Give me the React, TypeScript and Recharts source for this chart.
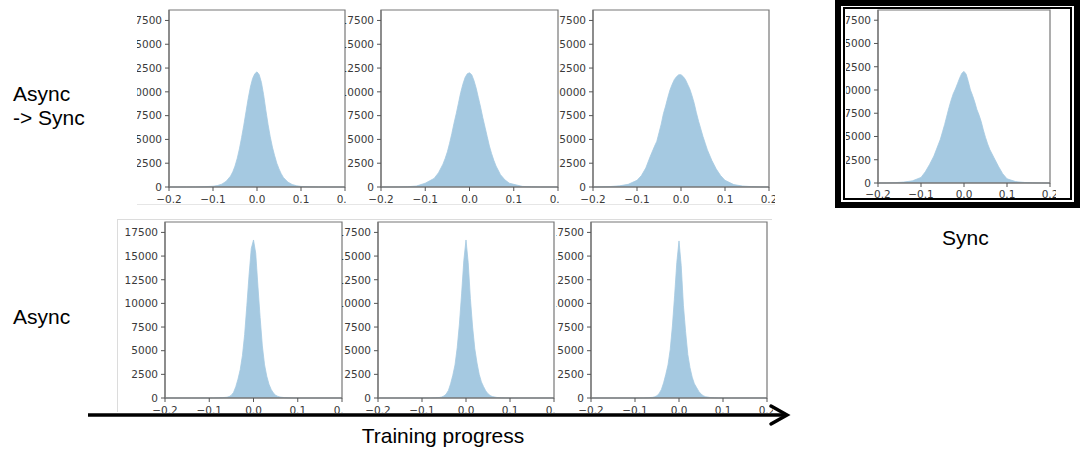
import React from "react";
import { AreaChart, Area, XAxis, YAxis, ReferenceArea } from "recharts";

// Bin centres (weights, x axis)
const X_BINS = [
  -0.2, -0.18, -0.16, -0.14, -0.12, -0.1, -0.09, -0.08, -0.07,
  -0.06, -0.055, -0.05, -0.045, -0.04, -0.035, -0.03, -0.025, -0.02, -0.015, -0.01, -0.005,
  0, 0.005, 0.01, 0.015, 0.02, 0.025, 0.03, 0.035, 0.04, 0.045, 0.05, 0.055, 0.06,
  0.07, 0.08, 0.09, 0.1, 0.12, 0.14, 0.16, 0.18, 0.2,
];

// Async -> Sync row (training progress left to right)
const ASYNC_SYNC_1 = [0, 0, 5, 10, 30, 80, 150, 300, 600, 1150, 1600, 2200, 3000, 4000, 5200, 6500, 7900, 9300, 10500, 11400, 11900, 12100, 11800, 11000, 9700, 8100, 6600, 5300, 4200, 3300, 2500, 1900, 1400, 1000, 520, 260, 130, 60, 20, 6, 0, 0, 0];
const ASYNC_SYNC_2 = [0, 3, 10, 30, 100, 400, 650, 900, 1500, 2400, 3000, 3700, 4600, 5600, 6700, 7700, 8800, 9900, 10800, 11500, 11900, 12000, 11800, 11200, 10400, 9400, 8400, 7300, 6300, 5300, 4300, 3500, 2800, 2200, 1300, 750, 400, 280, 60, 20, 6, 2, 0];
const ASYNC_SYNC_3 = [0, 15, 50, 120, 280, 700, 1200, 2000, 3200, 4300, 4800, 5700, 6600, 7700, 8500, 9400, 10200, 10800, 11300, 11600, 11800, 11800, 11600, 11300, 10800, 10300, 9600, 8800, 7800, 6900, 6100, 5300, 4600, 3900, 2800, 1900, 1200, 700, 250, 100, 40, 10, 0];
// Sync reference
const SYNC = [0, 10, 40, 100, 230, 600, 1200, 2000, 2900, 4100, 4700, 5500, 6300, 7200, 8100, 8900, 9600, 10100, 10700, 11300, 11800, 12000, 11700, 10900, 10000, 9400, 8700, 7900, 7300, 6600, 5700, 4900, 4200, 3600, 2700, 1800, 1000, 450, 150, 60, 20, 5, 0];
// Async row
const ASYNC_1 = [0, 0, 0, 0, 0, 5, 10, 20, 40, 80, 150, 300, 600, 1200, 2000, 3000, 4500, 6700, 9800, 13000, 15800, 16700, 15300, 11800, 8500, 5500, 3500, 2300, 1450, 900, 520, 300, 170, 100, 40, 15, 5, 0, 0, 0, 0, 0, 0];
const ASYNC_2 = [0, 0, 0, 0, 0, 0, 5, 10, 25, 60, 110, 220, 420, 800, 1500, 2400, 3500, 5300, 7800, 11000, 14500, 16700, 14300, 10500, 7500, 5200, 3700, 2500, 1700, 1200, 750, 450, 260, 150, 60, 20, 8, 0, 0, 0, 0, 0, 0];
const ASYNC_3 = [0, 0, 0, 0, 0, 0, 5, 10, 30, 70, 130, 250, 480, 900, 1600, 2500, 3500, 5100, 7600, 10800, 14300, 16600, 14000, 9800, 7000, 4600, 3200, 2200, 1500, 1100, 700, 420, 250, 140, 60, 20, 8, 0, 0, 0, 0, 0, 0];

const X_TICKS = [-0.2, -0.1, 0, 0.1, 0.2];
const Y_TICKS = [0, 2500, 5000, 7500, 10000, 12500, 15000, 17500];
const X_DOMAIN: [number, number] = [-0.2, 0.2];
const Y_DOMAIN: [number, number] = [0, 18600];

const ROW_LABEL_TOP = ["Async", "-> Sync"];
const ROW_LABEL_BOTTOM = "Async";
const SYNC_LABEL = "Sync";
const ARROW_LABEL = "Training progress";

const fmtX = (v: number) => (Math.abs(v) < 1e-9 ? "0.0" : (v < 0 ? "\u2212" : "") + Math.abs(v).toFixed(1));

type Box = { x: number; y: number; w: number; h: number };

const TICK_FONT = "DejaVu Sans";
const TICK_SIZE = 10.5;

const XTick = (props: any) => {
  const { x, y, payload } = props;
  return (
    <text x={x} y={y} dy="0.72em" textAnchor="middle" fontSize={TICK_SIZE} fontFamily={TICK_FONT} fill="#3a3a3a">
      {fmtX(payload.value)}
    </text>
  );
};

const YTick = (props: any) => {
  const { x, y, payload } = props;
  return (
    <text x={x} y={y} dy="0.36em" textAnchor="end" fontSize={TICK_SIZE} fontFamily={TICK_FONT} fill="#3a3a3a">
      {String(payload.value)}
    </text>
  );
};

function Hist({ values, plot, clip, xMargin = 4 }: { values: number[]; plot: Box; clip: Box; xMargin?: number }) {
  const YW = 42, MT = 6, MR = 6, XH = 26;
  const w = YW + plot.w + MR;
  const h = MT + plot.h + XH;
  const data = X_BINS.map((x, i) => ({ x, y: values[i] }));
  return (
    <div style={{ position: "absolute", left: clip.x, top: clip.y, width: clip.w, height: clip.h, overflow: "hidden" }}>
      <div style={{ position: "absolute", left: plot.x - YW - clip.x, top: plot.y - MT - clip.y }}>
        <AreaChart width={w} height={h} data={data} margin={{ top: MT, right: MR, bottom: 0, left: 0 }}>
          <XAxis
            dataKey="x"
            type="number"
            domain={X_DOMAIN}
            ticks={X_TICKS}
            interval={0}
            height={XH}
            tickSize={4}
            tickMargin={xMargin}
            tick={<XTick />}
            axisLine={{ stroke: "#777", strokeWidth: 1.2 }}
            tickLine={{ stroke: "#555" }}
          />
          <YAxis
            type="number"
            domain={Y_DOMAIN}
            ticks={Y_TICKS}
            interval={0}
            width={YW}
            tickSize={4}
            tickMargin={3}
            tick={<YTick />}
            axisLine={{ stroke: "#777", strokeWidth: 1.2 }}
            tickLine={{ stroke: "#555" }}
          />
          <Area
            dataKey="y"
            type="linear"
            fill="#a5c9e1"
            fillOpacity={1}
            stroke="#a5c9e1"
            strokeWidth={0.8}
            dot={false}
            activeDot={false}
            isAnimationActive={false}
          />
          <ReferenceArea x1={-0.2} x2={0.2} y1={0} y2={18600} fill="none" stroke="#777" strokeWidth={1.2} ifOverflow="visible" />
        </AreaChart>
      </div>
    </div>
  );
}

export default function App() {
  const font = "'Liberation Sans', Arial, Helvetica, sans-serif";
  return (
    <div style={{ position: "absolute", left: 0, top: 0, width: 1080, height: 460, background: "#fff", overflow: "hidden" }}>
      {/* Async -> Sync row */}
      <Hist values={ASYNC_SYNC_1} plot={{ x: 169, y: 10, w: 176, h: 177 }} clip={{ x: 137, y: 0, w: 209, h: 204 }} />
      <Hist values={ASYNC_SYNC_2} plot={{ x: 381, y: 10, w: 177, h: 177 }} clip={{ x: 345, y: 0, w: 214, h: 204 }} />
      <Hist values={ASYNC_SYNC_3} plot={{ x: 593, y: 10, w: 176, h: 177 }} clip={{ x: 559, y: 0, w: 216, h: 204 }} />
      {/* Sync */}
      <Hist values={SYNC} plot={{ x: 878, y: 10, w: 172, h: 173 }} clip={{ x: 846, y: 9, w: 224, h: 190 }} xMargin={3} />
      {/* Async row */}
      <Hist values={ASYNC_1} plot={{ x: 165, y: 222, w: 177, h: 176 }} clip={{ x: 117, y: 219, w: 226, h: 194 }} />
      <Hist values={ASYNC_2} plot={{ x: 378, y: 222, w: 176, h: 176 }} clip={{ x: 342, y: 219, w: 214, h: 194 }} />
      <Hist values={ASYNC_3} plot={{ x: 591, y: 222, w: 176, h: 176 }} clip={{ x: 556, y: 219, w: 219, h: 194 }} />

      <svg width={1080} height={460} style={{ position: "absolute", left: 0, top: 0, pointerEvents: "none" }}>
        {/* tile edges */}
        <line x1={137} y1={204.5} x2={775} y2={204.5} stroke="#e6e6e6" strokeWidth={1} />
        <line x1={117} y1={219.5} x2={772} y2={219.5} stroke="#dcdcdc" strokeWidth={1} />
        <line x1={117.5} y1={219} x2={117.5} y2={412} stroke="#dcdcdc" strokeWidth={1} />
        {/* Sync frame */}
        <rect x={838} y={3} width={239} height={202} fill="none" stroke="#000" strokeWidth={6} />
        <rect x={844} y={8} width={227} height={191} fill="none" stroke="#000" strokeWidth={2} />
        {/* arrow */}
        <line x1={88} y1={415} x2={785} y2={415} stroke="#000" strokeWidth={3.5} />
        <polyline points="771,406 787,415 771,424" fill="none" stroke="#000" strokeWidth={3.5} strokeLinecap="round" strokeLinejoin="miter" />
        {/* labels */}
        <text x={13} y={101} fontSize={21} fontFamily={font} fill="#000">{ROW_LABEL_TOP[0]}</text>
        <text x={13} y={125} fontSize={21} fontFamily={font} fill="#000">{ROW_LABEL_TOP[1]}</text>
        <text x={13} y={324} fontSize={21} fontFamily={font} fill="#000">{ROW_LABEL_BOTTOM}</text>
        <text x={942} y={245} fontSize={21} fontFamily={font} fill="#000">{SYNC_LABEL}</text>
        <text x={443} y={443} fontSize={21} fontFamily={font} fill="#000" textAnchor="middle">{ARROW_LABEL}</text>
      </svg>
    </div>
  );
}
